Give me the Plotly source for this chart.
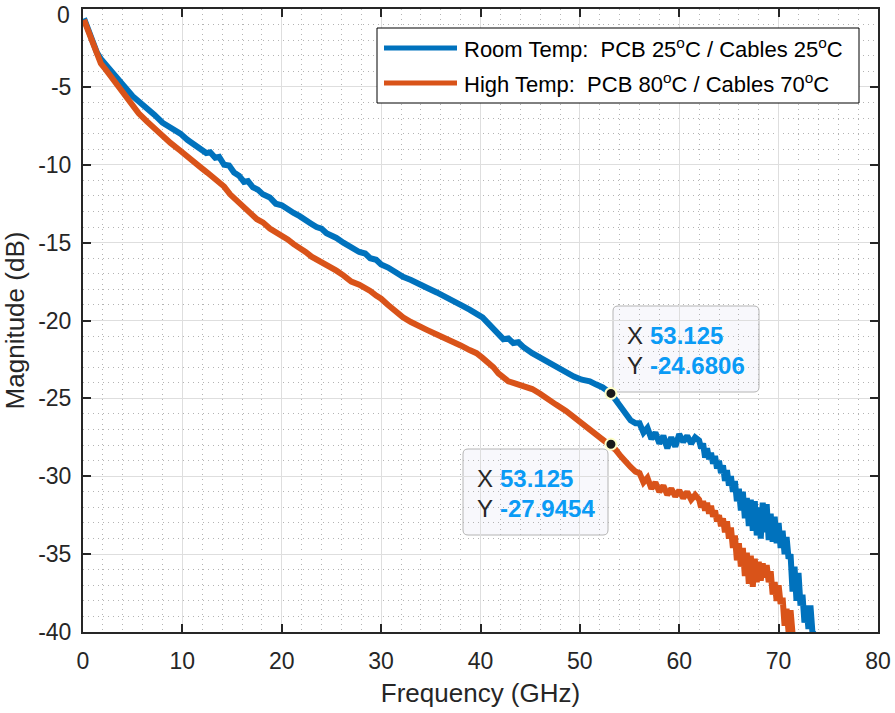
import plotly.graph_objects as go

# ---------------- data ----------------
freq_room = [0.1, 0.4, 0.7, 1.0, 1.4, 1.8, 2.3, 3.0, 3.6, 4.2, 5.0, 5.6, 6.4, 7.2, 8.0, 8.8, 9.8,
             10.5, 11.2, 11.9, 12.4, 12.8, 13.3, 13.7, 14.2, 14.7, 15.2, 15.7, 16.2, 16.6, 17.1, 17.6,
             18.1, 18.8, 19.4, 20.0, 20.6, 21.2, 21.8, 22.4, 23.0, 23.5, 24.0, 24.5, 25.0, 25.5, 26.2,
             27.0, 27.8, 28.4, 28.9, 29.5, 30.0, 30.7, 31.4, 32.2, 33.0, 33.8, 34.6, 35.6, 36.4, 37.2,
             38.0, 38.9, 39.6, 40.2, 40.8, 41.3, 41.8, 42.3, 42.8, 43.3, 43.8, 44.3, 45.2, 46.0, 46.8,
             47.6, 48.6, 49.4, 50.2, 51.0, 51.6, 52.3, 53.125, 53.6, 54.1, 54.6, 55.1, 55.6, 56.0, 56.4,
             56.8, 57.2, 57.6, 58.0, 58.4, 58.8, 59.2, 59.6, 60.0, 60.4, 60.8, 61.2, 61.6,
             62.0, 62.2, 62.4, 62.6, 62.8, 63.0, 63.2, 63.4, 63.6, 63.8, 64.0, 64.2, 64.4, 64.6, 64.8,
             65.0, 65.2, 65.4, 65.6, 65.8, 66.0, 66.2, 66.4, 66.6, 66.8, 67.0, 67.2, 67.4, 67.6, 67.8,
             68.0, 68.2, 68.4, 68.6, 68.8, 69.0, 69.2, 69.4, 69.6, 69.8, 70.0, 70.2, 70.4, 70.6, 70.8,
             71.0, 71.2, 71.4, 71.6, 71.8, 72.0, 72.2, 72.4, 72.6, 72.8, 73.0, 73.2, 73.4, 73.6]
mag_room = [-0.6, -1.1, -1.7, -2.2, -2.8, -3.2, -3.6, -4.1, -4.6, -5.0, -5.6, -5.9, -6.3, -6.8, -7.3, -7.6, -8.0,
            -8.4, -8.7, -9.0, -9.25, -9.2, -9.55, -9.5, -10.0, -10.05, -10.5, -10.7, -11.1, -11.05, -11.45, -11.6,
            -11.9, -12.1, -12.5, -12.6, -12.9, -13.1, -13.3, -13.5, -13.8, -14.0, -14.1, -14.4, -14.5, -14.7, -15.0,
            -15.3, -15.6, -15.7, -16.0, -16.1, -16.4, -16.6, -16.9, -17.2, -17.4, -17.7, -17.9, -18.2, -18.5, -18.8,
            -19.0, -19.3, -19.6, -19.8, -20.2, -20.5, -20.9, -21.2, -21.15, -21.45, -21.4, -21.7, -22.1, -22.4, -22.7,
            -23.0, -23.4, -23.6, -23.8, -23.9, -24.1, -24.3, -24.6806, -25.1, -25.6, -26.0, -26.4, -26.6, -26.6, -27.2,
            -26.9, -27.6, -27.2, -27.9, -27.4, -28.2, -27.5, -28.1, -27.3, -27.8, -27.4, -27.9, -27.5,
            -27.7, -28.2, -27.9, -28.8, -28.2, -28.9, -28.5, -29.2, -28.7, -29.5, -29.0, -29.8, -29.3, -30.3, -29.6,
            -30.6, -30.0, -31.0, -30.3, -31.6, -30.8, -32.2, -31.0, -32.7, -31.4, -33.2, -31.5, -33.5, -31.6, -33.8,
            -32.0, -34.0, -31.7, -33.6, -31.8, -34.1, -32.4, -34.2, -32.6, -34.3, -33.0, -34.6, -33.5, -35.0, -33.9,
            -35.3, -35.0, -37.4, -35.8, -38.0, -36.2, -38.3, -37.6, -39.4, -38.3, -39.8, -38.3, -40.0, -40.1]

freq_high = [0.1, 0.4, 0.7, 1.0, 1.4, 1.8, 2.3, 3.0, 3.6, 4.2, 5.0, 5.6, 6.4, 7.2, 8.0, 8.8, 9.8,
             10.5, 11.2, 11.9, 12.5, 13.1, 13.7, 14.2, 14.8, 15.5, 16.0, 16.5, 17.0, 17.5, 18.1, 18.8,
             19.4, 20.0, 20.6, 21.2, 21.8, 22.4, 23.0, 23.6, 24.2, 24.8, 25.5, 26.2, 27.0, 27.8, 28.4,
             28.9, 29.5, 30.0, 30.7, 31.4, 32.2, 33.0, 33.8, 34.6, 35.6, 36.4, 37.2, 38.0, 38.9, 39.6,
             40.2, 40.8, 41.3, 41.8, 42.3, 42.8, 43.3, 43.8, 44.4, 45.2, 46.0, 46.8, 47.6, 48.6, 49.4,
             50.2, 51.0, 51.6, 52.3, 53.125, 53.6, 54.1, 54.6, 55.1, 55.6, 56.0, 56.4, 56.8, 57.2, 57.6,
             58.0, 58.4, 58.8, 59.2, 59.6, 60.0, 60.4, 60.8, 61.2, 61.6,
             62.0, 62.2, 62.4, 62.6, 62.8, 63.0, 63.2, 63.4, 63.6, 63.8, 64.0, 64.2, 64.4, 64.6, 64.8,
             65.0, 65.2, 65.4, 65.6, 65.8, 66.0, 66.2, 66.4, 66.6, 66.8, 67.0, 67.2, 67.4, 67.6, 67.8,
             68.0, 68.2, 68.4, 68.6, 68.8, 69.0, 69.2, 69.4, 69.6, 69.8, 70.0, 70.2, 70.4, 70.6, 70.8,
             71.0, 71.2, 71.4, 71.6]
mag_high = [-0.7, -1.2, -1.9, -2.4, -3.0, -3.5, -3.9, -4.5, -5.0, -5.6, -6.3, -6.7, -7.2, -7.7, -8.2, -8.6, -9.1,
            -9.5, -9.8, -10.2, -10.5, -10.8, -11.2, -11.4, -11.9, -12.3, -12.5, -12.9, -13.2, -13.5, -13.7, -14.1,
            -14.3, -14.6, -14.8, -15.1, -15.3, -15.6, -15.9, -16.1, -16.3, -16.6, -16.8, -17.1, -17.5, -17.7, -17.9,
            -18.1, -18.4, -18.6, -19.0, -19.4, -19.8, -20.1, -20.4, -20.6, -20.9, -21.1, -21.4, -21.6, -21.9, -22.1,
            -22.4, -22.7, -23.0, -23.4, -23.7, -23.9, -24.0, -24.1, -24.2, -24.4, -24.7, -25.0, -25.4, -25.8, -26.2,
            -26.6, -27.0, -27.3, -27.6, -27.9454, -28.3, -28.7, -29.1, -29.4, -29.7, -29.8, -30.4, -30.1, -30.8, -30.4,
            -31.0, -30.6, -31.2, -30.8, -31.3, -30.9, -31.4, -31.0, -31.5, -31.2,
            -31.5, -32.0, -31.6, -32.2, -31.7, -32.4, -31.9, -32.6, -32.2, -32.9, -32.5, -33.2, -32.7, -33.6, -32.9,
            -34.0, -33.3, -34.6, -33.8, -35.4, -34.3, -35.8, -34.6, -36.4, -34.9, -36.9, -35.1, -37.1, -35.3, -36.8,
            -35.5, -36.7, -35.6, -36.5, -35.7, -36.8, -36.1, -37.6, -36.8, -38.0, -37.0, -38.2, -37.8, -39.6, -38.5,
            -40.0, -38.6, -40.1, -40.2]

tip_freq = [53.125, 53.125]
tip_mag = [-24.6806, -27.9454]
tip_x_text = ["53.125", "53.125"]
tip_y_text = ["-24.6806", "-27.9454"]

x_ticks = [0, 10, 20, 30, 40, 50, 60, 70, 80]
y_ticks = [0, -5, -10, -15, -20, -25, -30, -35, -40]

series_names = ["Room Temp:\u00a0 PCB 25<sup>o</sup>C / Cables 25<sup>o</sup>C",
                "High Temp:\u00a0 PCB 80<sup>o</sup>C / Cables 70<sup>o</sup>C"]
colors = ["#0072BD", "#D95319"]

# ---------------- layout helpers ----------------
W, H = 895, 713
L, R, T, B = 83, 878, 9, 632
FONT = "Liberation Sans, Arial, sans-serif"
INK = "#262626"


def px(x):
    return (x - L) / (R - L)


def py(y):
    return (B - y) / (B - T)


def rrect(x0, y0, x1, y1, r):
    rx, ry = r / (R - L), r / (B - T)
    a, b, c, d = px(x0), py(y1), px(x1), py(y0)  # left, bottom, right, top (paper)
    return (f"M {a+rx},{b} L {c-rx},{b} Q {c},{b} {c},{b+ry} L {c},{d-ry} Q {c},{d} {c-rx},{d} "
            f"L {a+rx},{d} Q {a},{d} {a},{d-ry} L {a},{b+ry} Q {a},{b} {a+rx},{b} Z")


fig = go.Figure()
fig.add_trace(go.Scatter(x=freq_room, y=mag_room, mode="lines", name=series_names[0],
                         line=dict(color=colors[0], width=6), showlegend=False))
fig.add_trace(go.Scatter(x=freq_high, y=mag_high, mode="lines", name=series_names[1],
                         line=dict(color=colors[1], width=6), showlegend=False))
fig.add_trace(go.Scatter(x=tip_freq, y=tip_mag, mode="markers", showlegend=False,
                         marker=dict(size=11, color="#1a1a1a", line=dict(color="#ffffc8", width=2)),
                         cliponaxis=False))

shapes = []
annotations = []

# legend (drawn manually)
shapes.append(dict(type="rect", xref="paper", yref="paper", x0=px(377), x1=px(859), y0=py(103), y1=py(28),
                   line=dict(color="#000000", width=1), fillcolor="white", layer="above"))
for i, yy in enumerate([48, 83]):
    shapes.append(dict(type="line", xref="paper", yref="paper", x0=px(384), x1=px(457), y0=py(yy), y1=py(yy),
                       line=dict(color=colors[i], width=5), layer="above"))
    annotations.append(dict(xref="paper", yref="paper", x=px(462), y=py(yy), xanchor="left", yanchor="middle",
                            text=series_names[i], showarrow=False,
                            font=dict(family=FONT, size=22, color="#000000")))

# data tips
tip_boxes = [(613, 306, 759, 392), (463, 449, 608, 535)]
for i, (x0, y0, x1, y1) in enumerate(tip_boxes):
    shapes.append(dict(type="path", xref="paper", yref="paper", path=rrect(x0, y0, x1, y1, 5),
                       fillcolor="#f8f8fc", line=dict(color="#b4b4b4", width=1), layer="between"))
    ymid = (y0 + y1) / 2 + 1
    for lab, val, yy in [("X", tip_x_text[i], ymid - 15), ("Y", tip_y_text[i], ymid + 15)]:
        annotations.append(dict(xref="paper", yref="paper", x=px(x0 + 12), y=py(yy), xanchor="left",
                                yanchor="middle", text=lab, showarrow=False,
                                font=dict(family=FONT, size=24, color=INK)))
        annotations.append(dict(xref="paper", yref="paper", x=px(x0 + 35), y=py(yy), xanchor="left",
                                yanchor="middle", text="<b>" + val + "</b>", showarrow=False,
                                font=dict(family=FONT, size=24, color="#0a9bf5")))

# top "0" label of the y axis, kept inside the page
y_tick_text = [str(v) for v in y_ticks]
annotations.append(dict(xref="paper", yref="paper", x=px(72), y=py(0), xanchor="right", yanchor="top",
                        text=y_tick_text[0], showarrow=False, font=dict(family=FONT, size=23, color=INK)))
y_tick_text[0] = ""

axis_common = dict(showline=True, linecolor=INK, linewidth=2, mirror="ticks", ticks="inside",
                   ticklen=8, tickwidth=2, tickcolor=INK, showgrid=True, gridcolor="#dedede",
                   gridwidth=1, zeroline=False, ticklabeloverflow="allow", automargin=False,
                   tickfont=dict(family=FONT, size=23, color=INK))

fig.update_layout(
    width=W, height=H, margin=dict(l=L, r=W - R, t=T, b=H - B, autoexpand=False),
    paper_bgcolor="white", plot_bgcolor="white", showlegend=False,
    shapes=shapes, annotations=annotations,
    xaxis=dict(range=[0, 80], tickvals=x_ticks, ticktext=[str(v) for v in x_ticks],
               title=dict(text="Frequency (GHz)", font=dict(family=FONT, size=26, color=INK), standoff=11),
               minor=dict(dtick=2, tick0=0, showgrid=True, gridcolor="#b4b4b4", griddash="1px,4px",
                          gridwidth=1),
               ticklabelstandoff=7, **axis_common),
    yaxis=dict(range=[-40, 0], tickvals=y_ticks, ticktext=y_tick_text,
               title=dict(text="Magnitude (dB)", font=dict(family=FONT, size=26, color=INK), standoff=7),
               minor=dict(dtick=1, tick0=0, showgrid=True, gridcolor="#b4b4b4", griddash="1px,4px",
                          gridwidth=1),
               ticklabelstandoff=5, **axis_common),
)

fig.write_html("out.html")
